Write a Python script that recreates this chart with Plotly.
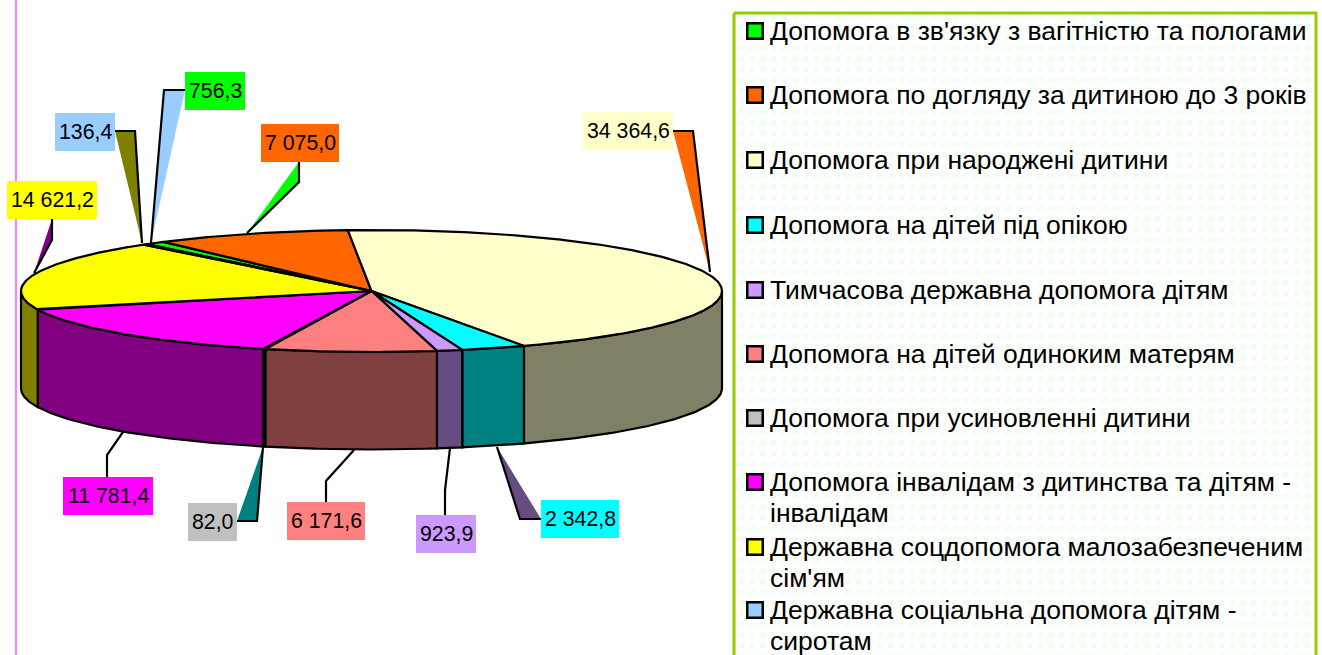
import numpy as np
import plotly.graph_objects as go

# ---- data ----
categories = [
    "Допомога в зв'язку з вагітністю та пологами",
    "Допомога по догляду за дитиною до 3 років",
    "Допомога при народжені дитини",
    "Допомога на дітей під опікою",
    "Тимчасова державна допомога дітям",
    "Допомога на дітей одиноким матерям",
    "Допомога при усиновленні дитини",
    "Допомога інвалідам з дитинства та дітям -<br>інвалідам",
    "Державна соцдопомога малозабезпеченим<br>сім'ям",
    "Державна соціальна допомога дітям -<br>сиротам",
]
values = [756.3, 7075.0, 34364.6, 2342.8, 923.9, 6171.6, 82.0, 11781.4, 14621.2, 136.4]
value_labels = ["756,3", "7 075,0", "34 364,6", "2 342,8", "923,9", "6 171,6", "82,0", "11 781,4", "14 621,2", "136,4"]
top_colors = ["#00FF00", "#FF6600", "#FFFFCC", "#00FFFF", "#CC99FF", "#FF8080", "#C0C0C0", "#FF00FF", "#FFFF00", "#99CCFF"]
side_colors = ["#008000", "#803300", "#808066", "#008080", "#664C80", "#804040", "#606060", "#800080", "#808000", "#4C6680"]
leader_colors = ["#99CCFF", "#00FF00", "#FF6600", "#664C80", None, None, "#008080", None, "#800080", "#808000"]

# ---- layout geometry (pixels) ----
W, H = 1322, 655
CX, CY, RX, RY, DEPTH = 371.5, 291.0, 350.5, 61.0, 97.5
START = -39.9
# label boxes: left, top, right, bottom
boxes = [(185, 72, 245, 110), (261, 124, 339, 162), (583, 112, 673, 150), (541, 500, 619, 538),
         (416, 515, 476, 553), (287, 502, 365, 540), (188, 503, 237, 541), (63, 477, 153, 515),
         (7, 181, 97, 219), (55, 113, 115, 151)]
leaders = [[(185, 90), (164, 90), (151, 243)], [(299, 162), (299, 182), (247, 233)],
           [(673, 131), (693, 131), (710, 272)], [(541, 519), (520, 519), (497, 447)],
           [(445, 515), (445, 490), (450, 448)], [(326, 502), (326, 481), (354, 450)],
           [(237, 521), (257, 521), (263, 447)], [(107, 477), (107, 455), (123, 432)],
           [(52, 219), (52, 240), (34, 273)], [(115, 131), (135, 131), (142, 243)]]
legend_rows = [31, 95, 160, 225, 290, 354, 418, 482, 547, 610]
LEG_L, LEG_T, LEG_R = 734, 13, 1316
LINE_GAP = 30.5
FS_LABEL, FS_LEG = 21.3, 26.5
FONT = "Liberation Sans, Arial, sans-serif"

fig = go.Figure()


def ex(t):
    return CX + RX * np.sin(np.radians(t))


def ey(t):
    return CY - RY * np.cos(np.radians(t))


def poly(xs, ys, fill, line=2.2, **kw):
    fig.add_trace(go.Scatter(x=list(xs), y=list(ys), mode="lines", fill="toself", fillcolor=fill,
                             line=dict(color="black", width=line), hoverinfo="skip",
                             showlegend=False, **kw))


# page furniture
fig.add_shape(type="line", x0=16, x1=16, y0=0, y1=H, line=dict(color="#FF80FF", width=2))
fig.add_trace(go.Scatter(x=[LEG_L, LEG_R, LEG_R, LEG_L, LEG_L], y=[LEG_T, LEG_T, H + 5, H + 5, LEG_T],
                         mode="lines", fill="toself", line=dict(color="#99CC00", width=3),
                         fillcolor="white",
                         fillpattern=dict(shape=".", fgcolor="#DDFFDD", bgcolor="white", size=10.67, solidity=0.22),
                         hoverinfo="skip", showlegend=False))

# pie geometry derived from the values
angles = START + np.concatenate([[0], np.cumsum(values)]) / np.sum(values) * 360
spans = list(zip(angles[:-1], angles[1:]))

# walls: only the front half (90..270 degrees) is visible
for (a, b), col in zip(spans, side_colors):
    lo, hi = max(a, 90), min(b, 270)
    if hi <= lo:
        continue
    t = np.linspace(lo, hi, 80)
    xs = np.concatenate([ex(t), ex(t[::-1]), ex(t[:1])])
    ys = np.concatenate([ey(t), ey(t[::-1]) + DEPTH, ey(t[:1])])
    poly(xs, ys, col)

# top faces
for (a, b), col in zip(spans, top_colors):
    t = np.linspace(a, b, max(int(b - a) * 4, 4))
    xs = np.concatenate([[CX], ex(t), [CX]])
    ys = np.concatenate([[CY], ey(t), [CY]])
    poly(xs, ys, col)

# leader lines and callouts
for pts, col in zip(leaders, leader_colors):
    xs, ys = zip(*pts)
    if col:
        fig.add_trace(go.Scatter(x=list(xs) + [xs[0]], y=list(ys) + [ys[0]], mode="none", fill="toself",
                                 fillcolor=col, hoverinfo="skip", showlegend=False))
    fig.add_trace(go.Scatter(x=xs, y=ys, mode="lines", line=dict(color="black", width=2.2),
                             hoverinfo="skip", showlegend=False))

# data labels
for box, txt, col in zip(boxes, value_labels, top_colors):
    l, t, r, b = box
    fig.add_shape(type="rect", x0=l, x1=r, y0=t, y1=b, fillcolor=col, line=dict(width=0), layer="above")
    fig.add_annotation(x=(l + r) / 2, y=(t + b) / 2, text=txt, showarrow=False,
                       font=dict(family=FONT, size=FS_LABEL, color="black"))

# legend entries
fig.add_trace(go.Scatter(x=[755] * len(legend_rows), y=legend_rows, mode="markers",
                         marker=dict(symbol="square", size=15.5, color=top_colors,
                                     line=dict(color="black", width=2.5)),
                         hoverinfo="skip", showlegend=False))
for y, name in zip(legend_rows, categories):
    for i, part in enumerate(name.split("<br>")):
        fig.add_annotation(x=768, y=y + i * LINE_GAP, text=part, showarrow=False, xanchor="left",
                           yanchor="middle", align="left",
                           font=dict(family=FONT, size=FS_LEG, color="black"))

fig.update_layout(width=W, height=H, margin=dict(l=0, r=0, t=0, b=0), paper_bgcolor="white",
                  plot_bgcolor="white", showlegend=False,
                  xaxis=dict(range=[0, W], visible=False, fixedrange=True),
                  yaxis=dict(range=[H, 0], visible=False, fixedrange=True))
fig.write_html("out.html", config={"displayModeBar": False},
               post_script="document.body.style.margin='0';")
